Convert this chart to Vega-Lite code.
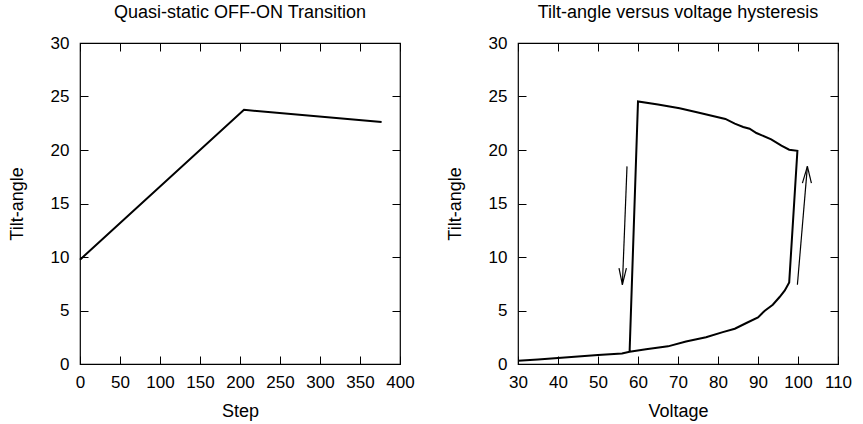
{
  "$schema": "https://vega.github.io/schema/vega-lite/v6.json",
  "background": "white",
  "padding": {"left": 7, "top": 3, "right": 5, "bottom": 0},
  "spacing": 30,
  "config": {
    "font": "Liberation Sans",
    "view": {"stroke": "black", "strokeWidth": 1.2},
    "axis": {
      "grid": false, "domain": false, "tickSize": -8, "tickColor": "black", "tickWidth": 1,
      "labelPadding": 19, "labelFontSize": 17, "labelColor": "black", "labelFont": "Liberation Sans",
      "labelOverlap": false, "labelBound": false, "labelFlush": false,
      "titleFontSize": 18, "titleFontWeight": "normal", "titleColor": "black", "titleFont": "Liberation Sans"
    },
    "axisY": {"titlePadding": 24},
    "axisX": {"titlePadding": 12, "labelPadding": 18},
    "title": {"fontSize": 18, "fontWeight": "normal", "color": "black", "font": "Liberation Sans", "offset": 12}
  },
  "datasets": {
    "offon": [
      {"step": 0, "tilt": 9.75},
      {"step": 205, "tilt": 23.75},
      {"step": 377, "tilt": 22.62}
    ],
    "hyst": [
      {"i": 0, "v": 30, "t": 0.31},
      {"i": 1, "v": 35, "t": 0.42},
      {"i": 2, "v": 40, "t": 0.56},
      {"i": 3, "v": 45, "t": 0.7},
      {"i": 4, "v": 50, "t": 0.84},
      {"i": 5, "v": 56, "t": 0.98},
      {"i": 6, "v": 57.9, "t": 1.15},
      {"i": 7, "v": 62, "t": 1.38},
      {"i": 8, "v": 67.5, "t": 1.65},
      {"i": 9, "v": 72, "t": 2.1},
      {"i": 10, "v": 77, "t": 2.5},
      {"i": 11, "v": 81.2, "t": 2.98},
      {"i": 12, "v": 84.2, "t": 3.3},
      {"i": 13, "v": 87.1, "t": 3.83},
      {"i": 14, "v": 90.0, "t": 4.36},
      {"i": 15, "v": 91.7, "t": 4.98},
      {"i": 16, "v": 93.7, "t": 5.54},
      {"i": 17, "v": 95.4, "t": 6.26},
      {"i": 18, "v": 96.7, "t": 6.88},
      {"i": 19, "v": 97.8, "t": 7.63},
      {"i": 20, "v": 99.85, "t": 19.93},
      {"i": 21, "v": 97.8, "t": 20.03},
      {"i": 22, "v": 95.85, "t": 20.4},
      {"i": 23, "v": 93.3, "t": 21.0},
      {"i": 24, "v": 89.6, "t": 21.59},
      {"i": 25, "v": 87.9, "t": 21.99},
      {"i": 26, "v": 86.3, "t": 22.15},
      {"i": 27, "v": 84.2, "t": 22.46},
      {"i": 28, "v": 81.85, "t": 22.9},
      {"i": 29, "v": 75, "t": 23.5},
      {"i": 30, "v": 70.4, "t": 23.9},
      {"i": 31, "v": 65, "t": 24.25},
      {"i": 32, "v": 60.0, "t": 24.54},
      {"i": 33, "v": 57.9, "t": 1.15}
    ],
    "arrows": [
      {"v1": 57.25, "t1": 18.47, "v2": 56.1, "t2": 7.41},
      {"v1": 55.25, "t1": 8.97, "v2": 56.1, "t2": 7.41},
      {"v1": 57.1, "t1": 8.97, "v2": 56.1, "t2": 7.41},
      {"v1": 99.85, "t1": 7.41, "v2": 102.35, "t2": 18.47},
      {"v1": 101.1, "t1": 16.9, "v2": 102.35, "t2": 18.47},
      {"v1": 103.35, "t1": 16.9, "v2": 102.35, "t2": 18.47}
    ]
  },
  "hconcat": [
    {
      "width": 320, "height": 321,
      "title": {"text": "Quasi-static OFF-ON Transition"},
      "data": {"name": "offon"},
      "layer": [
        {
          "mark": {"type": "line", "color": "black", "strokeWidth": 2},
          "encoding": {
            "x": {"field": "step", "type": "quantitative", "scale": {"domain": [0, 400], "nice": false}, "axis": {"values": [0, 50, 100, 150, 200, 250, 300, 350, 400], "title": "Step"}},
            "y": {"field": "tilt", "type": "quantitative", "scale": {"domain": [0, 30], "nice": false}, "axis": {"values": [0, 5, 10, 15, 20, 25, 30], "title": "Tilt-angle"}}
          }
        },
        {
          "mark": {"type": "line", "opacity": 0},
          "encoding": {
            "x": {"field": "step", "type": "quantitative", "axis": {"orient": "top", "values": [0, 50, 100, 150, 200, 250, 300, 350, 400], "labels": false, "title": null}},
            "y": {"field": "tilt", "type": "quantitative", "axis": {"orient": "right", "values": [0, 5, 10, 15, 20, 25, 30], "labels": false, "title": null}}
          }
        }
      ],
      "resolve": {"axis": {"x": "independent", "y": "independent"}}
    },
    {
      "width": 320, "height": 321,
      "title": {"text": "Tilt-angle versus voltage hysteresis"},
      "layer": [
        {
          "data": {"name": "hyst"},
          "mark": {"type": "line", "color": "black", "strokeWidth": 2},
          "encoding": {
            "x": {"field": "v", "type": "quantitative", "scale": {"domain": [30, 110], "nice": false}, "axis": {"values": [30, 40, 50, 60, 70, 80, 90, 100, 110], "title": "Voltage"}},
            "y": {"field": "t", "type": "quantitative", "scale": {"domain": [0, 30], "nice": false}, "axis": {"values": [0, 5, 10, 15, 20, 25, 30], "title": "Tilt-angle"}},
            "order": {"field": "i", "type": "quantitative"}
          }
        },
        {
          "data": {"name": "arrows"},
          "mark": {"type": "rule", "color": "black", "strokeWidth": 1.2},
          "encoding": {
            "x": {"field": "v1", "type": "quantitative", "axis": {"orient": "top", "values": [30, 40, 50, 60, 70, 80, 90, 100, 110], "labels": false, "title": null}},
            "y": {"field": "t1", "type": "quantitative", "axis": {"orient": "right", "values": [0, 5, 10, 15, 20, 25, 30], "labels": false, "title": null}},
            "x2": {"field": "v2"},
            "y2": {"field": "t2"}
          }
        }
      ],
      "resolve": {"axis": {"x": "independent", "y": "independent"}}
    }
  ]
}
